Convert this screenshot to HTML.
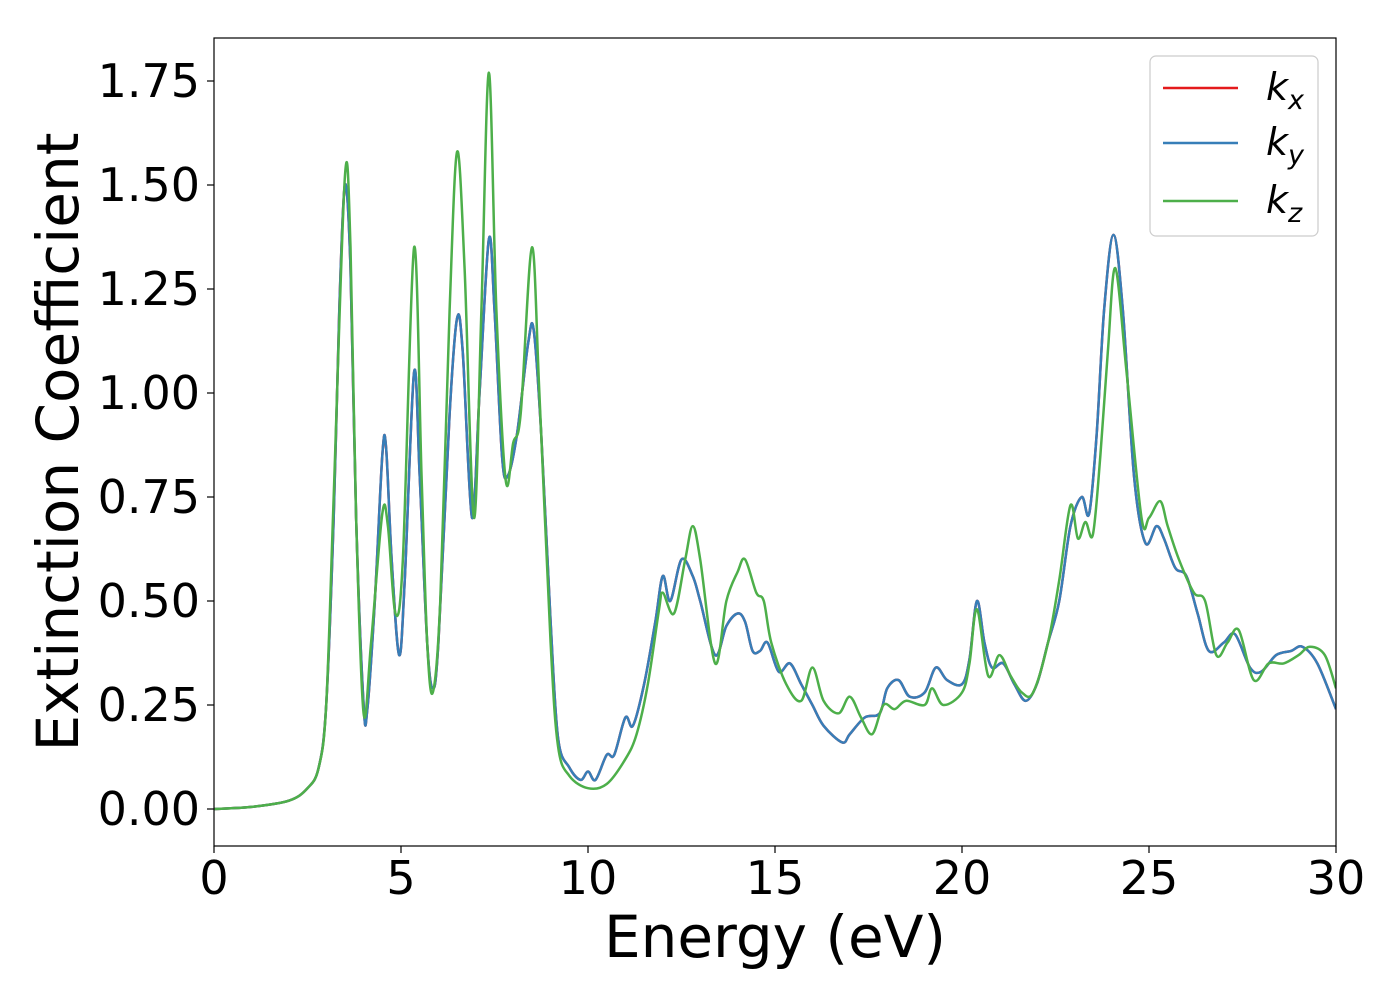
<!DOCTYPE html>
<html><head><meta charset="utf-8"><style>
body{margin:0;background:#fff;}
svg text{font-family:"DejaVu Sans","Liberation Sans",sans-serif;}
</style></head><body>
<svg id="chart" width="1400" height="1000" xmlns="http://www.w3.org/2000/svg"></svg>
<script>
const energyB=[0,1,2,2.5,2.8,3.0,3.2,3.35,3.5,3.65,3.8,4.0,4.1,4.3,4.5,4.6,4.75,4.95,5.1,5.35,5.5,5.7,5.85,6.0,6.3,6.5,6.65,6.9,7.1,7.35,7.5,7.7,7.85,8.1,8.4,8.55,8.75,9.0,9.2,9.5,9.8,10.0,10.2,10.5,10.7,11.0,11.2,11.5,11.8,12.0,12.2,12.5,12.8,13.0,13.4,13.7,14.0,14.2,14.4,14.6,14.8,15.1,15.4,15.7,16.0,16.3,16.8,17.0,17.4,17.8,18.0,18.3,18.6,19.0,19.3,19.6,20.0,20.2,20.4,20.6,20.8,21.1,21.4,21.7,22.0,22.3,22.6,22.9,23.2,23.4,23.6,23.8,24.05,24.3,24.6,24.9,25.2,25.4,25.7,26.0,26.3,26.6,27.0,27.3,27.7,28.0,28.4,28.8,29.1,29.5,30];
const kyVals=[0,0.005,0.02,0.05,0.1,0.25,0.7,1.2,1.5,1.3,0.7,0.25,0.24,0.5,0.85,0.87,0.6,0.37,0.55,1.05,0.8,0.4,0.29,0.4,0.95,1.18,1.1,0.7,1.0,1.37,1.2,0.85,0.8,0.9,1.12,1.15,0.9,0.45,0.17,0.1,0.07,0.09,0.07,0.13,0.13,0.22,0.2,0.3,0.45,0.56,0.5,0.6,0.56,0.5,0.37,0.44,0.47,0.45,0.38,0.38,0.4,0.33,0.35,0.3,0.25,0.2,0.16,0.18,0.22,0.23,0.29,0.31,0.27,0.28,0.34,0.31,0.3,0.36,0.5,0.4,0.34,0.35,0.3,0.26,0.3,0.4,0.5,0.68,0.75,0.71,0.9,1.2,1.38,1.2,0.8,0.64,0.68,0.65,0.58,0.56,0.47,0.38,0.4,0.42,0.34,0.33,0.37,0.38,0.39,0.35,0.24];
const kxVals=kyVals.map(v=>v);
const energyZ=[0,1,2,2.5,2.8,3.0,3.2,3.5,3.65,3.8,4.0,4.2,4.5,4.65,4.85,5.05,5.35,5.55,5.7,5.85,6.05,6.3,6.5,6.7,6.95,7.15,7.35,7.55,7.8,8.0,8.2,8.5,8.7,9.0,9.2,9.5,10.0,10.5,11.0,11.3,11.6,11.9,12.0,12.3,12.6,12.8,13.0,13.4,13.7,14.0,14.2,14.5,14.7,14.9,15.3,15.7,16.0,16.3,16.7,17.0,17.3,17.6,17.9,18.2,18.5,19.0,19.2,19.5,20.0,20.2,20.4,20.7,21.0,21.3,21.6,21.9,22.3,22.6,22.9,23.1,23.3,23.5,23.7,23.9,24.1,24.4,24.8,25.0,25.3,25.5,25.8,26.2,26.5,26.8,27.1,27.4,27.8,28.2,28.6,29.0,29.3,29.7,30];
const kzVals=[0,0.005,0.02,0.05,0.1,0.25,0.75,1.52,1.35,0.7,0.23,0.4,0.71,0.68,0.47,0.6,1.35,0.8,0.4,0.28,0.5,1.2,1.58,1.3,0.7,1.2,1.77,1.2,0.79,0.88,0.95,1.35,1.0,0.4,0.15,0.08,0.05,0.06,0.12,0.18,0.3,0.48,0.52,0.47,0.6,0.68,0.6,0.35,0.5,0.57,0.6,0.52,0.5,0.4,0.3,0.26,0.34,0.26,0.23,0.27,0.22,0.18,0.25,0.24,0.26,0.25,0.29,0.25,0.28,0.35,0.48,0.32,0.37,0.32,0.28,0.28,0.4,0.55,0.73,0.65,0.69,0.66,0.85,1.1,1.3,1.05,0.7,0.7,0.74,0.68,0.6,0.52,0.5,0.37,0.4,0.43,0.31,0.35,0.35,0.37,0.39,0.37,0.29];
const xTicks=[0,5,10,15,20,25,30];
const yTicks=[0,0.25,0.5,0.75,1.0,1.25,1.5,1.75];

const L=214,R=1336,T=38,B=846;
const X=v=>L+(v-0)/30*(R-L);
const Y=v=>809-v*416;
const NS="http://www.w3.org/2000/svg";
const svg=document.getElementById('chart');
function mk(tag,attrs,parent){const e=document.createElementNS(NS,tag);for(const k in attrs)e.setAttribute(k,attrs[k]);(parent||svg).appendChild(e);return e;}
const defs=mk('defs',{});
const cp=mk('clipPath',{id:'clip'},defs);
mk('rect',{x:L,y:T,width:R-L,height:B-T},cp);

function pathD(xs,ys){
  const p=xs.map((x,i)=>[X(x),Y(ys[i])]);
  let d=`M${p[0][0]},${p[0][1]}`;
  for(let i=0;i<p.length-1;i++){
    const p0=p[Math.max(0,i-1)],p1=p[i],p2=p[i+1],p3=p[Math.min(p.length-1,i+2)];
    const c1=[p1[0]+(p2[0]-p0[0])/6,p1[1]+(p2[1]-p0[1])/6];
    const c2=[p2[0]-(p3[0]-p1[0])/6,p2[1]-(p3[1]-p1[1])/6];
    d+=`C${c1[0]},${c1[1]} ${c2[0]},${c2[1]} ${p2[0]},${p2[1]}`;
  }
  return d;
}
const g=mk('g',{'clip-path':'url(#clip)'});
let e;
e=mk('path',{d:pathD(energyB,kxVals),fill:'none',stroke:'#e41a1c','stroke-width':2.5},g);

e=mk('path',{d:pathD(energyB,kyVals),fill:'none',stroke:'#377eb8','stroke-width':2.5},g);

e=mk('path',{d:pathD(energyZ,kzVals),fill:'none',stroke:'#4daf4a','stroke-width':2.5},g);


e=mk('rect',{x:L,y:T,width:R-L,height:B-T,fill:'none',stroke:'#000','stroke-width':1.2});


xTicks.forEach(t=>{
  mk('line',{x1:X(t),x2:X(t),y1:B,y2:B+7,stroke:'#000','stroke-width':1.2});
  e=mk('text',{x:X(t),y:B+48,'font-size':46,'text-anchor':'middle'});e.textContent=t;
  
});
yTicks.forEach(t=>{
  mk('line',{x1:L-7,x2:L,y1:Y(t),y2:Y(t),stroke:'#000','stroke-width':1.2});
  e=mk('text',{x:L-14,y:Y(t)+16,'font-size':46,'text-anchor':'end'});e.textContent=t.toFixed(2);
  
});
e=mk('text',{x:775,y:957,'font-size':58,'text-anchor':'middle'});e.textContent='Energy (eV)';

e=mk('text',{x:78,y:442,'font-size':58,'text-anchor':'middle',transform:'rotate(-90 78 442)'});e.textContent='Extinction Coefficient';


const lg=mk('g',{});

mk('rect',{x:1150,y:56,width:168,height:180,rx:6,fill:'#fff','fill-opacity':0.8,stroke:'#ccc','stroke-width':1.2},lg);
const legNames=['x','y','z'],legCols=['#e41a1c','#377eb8','#4daf4a'],legY=[88,143,201];
legNames.forEach((n,i)=>{
  mk('line',{x1:1163,x2:1238,y1:legY[i],y2:legY[i],stroke:legCols[i],'stroke-width':2.5},lg);
  const t=mk('text',{x:1266,y:legY[i]+12,'font-size':38,'font-style':'italic'},lg);
  
  t.innerHTML='k<tspan font-size="27" dy="9">'+n+'</tspan>';
});
</script>
</body></html>
